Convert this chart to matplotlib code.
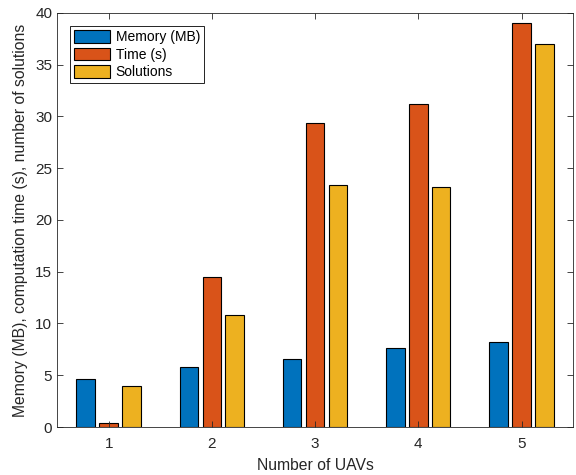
import matplotlib
matplotlib.use("Agg")
import matplotlib.pyplot as plt
import numpy as np

# dados
uavs = [1, 2, 3, 4, 5]
memoria = [4.6, 5.8, 6.6, 7.6, 8.2]
tempo = [0.4, 14.5, 29.4, 31.2, 39.0]
solucoes = [4.0, 10.8, 23.4, 23.2, 37.0]
nomes = ["Memory (MB)", "Time (s)", "Solutions"]
cores = ["#0072BD", "#D95319", "#EDB120"]

plt.rcParams['font.family'] = ['Liberation Sans', 'DejaVu Sans']
plt.rcParams['font.size'] = 11

fig = plt.figure(figsize=(5.76, 4.75), dpi=100)
ax = fig.add_axes([0.099, 0.101, 0.896, 0.872])

x = np.array(uavs, dtype=float)
larg = 0.18
desl = 0.222
series = [memoria, tempo, solucoes]
for i, s in enumerate(series):
    ax.bar(x + (i - 1) * desl, s, width=larg, color=cores[i],
           edgecolor="black", linewidth=0.8, label=nomes[i])

ax.set_xlim(0.5, 5.5)
ax.set_ylim(0, 40)
ax.set_xticks(uavs)
ax.set_yticks(np.arange(0, 41, 5))
ax.tick_params(direction="in", top=True, right=True, colors="#262626",
               labelcolor="#262626", length=4, width=0.6, labelsize=11)
ax.tick_params(axis="x", pad=7)
for sp in ax.spines.values():
    sp.set_color("#262626")
    sp.set_linewidth(0.6)

ax.set_xlabel("Number of UAVs", color="#262626", labelpad=5, fontsize=11.3)
ax.set_ylabel("Memory (MB), computation time (s), number of solutions",
              color="#262626", labelpad=5, fontsize=11.3)

leg = ax.legend(loc="upper left", bbox_to_anchor=(0.025, 0.968), fontsize=10,
                handlelength=2.6, handleheight=1.0, handletextpad=0.4,
                labelspacing=0.25, borderpad=0.3, borderaxespad=0.0,
                fancybox=False, framealpha=1, edgecolor="black")
leg.get_frame().set_linewidth(0.6)

fig.savefig("out.png", dpi=100)
